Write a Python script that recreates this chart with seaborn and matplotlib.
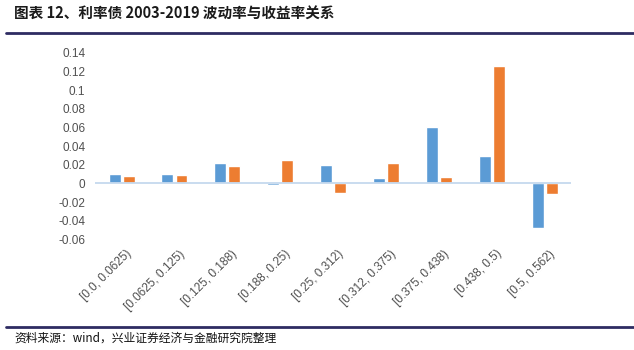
import numpy as np
import pandas as pd
import matplotlib
matplotlib.use("Agg")
import matplotlib.pyplot as plt
from matplotlib.ticker import FuncFormatter
from matplotlib.transforms import ScaledTranslation
import seaborn as sns

# === dati ===
bins = ["[0.0, 0.0625)", "[0.0625, 0.125)", "[0.125, 0.188)", "[0.188, 0.25)",
        "[0.25, 0.312)", "[0.312, 0.375)", "[0.375, 0.438)", "[0.438, 0.5)",
        "[0.5, 0.562)"]
vol = [0.0100, 0.0097, 0.0215, -0.0015, 0.0200, 0.0054, 0.0610, 0.0290, -0.0478]
ret = [0.0078, 0.0086, 0.0190, 0.0250, -0.0100, 0.0215, 0.0068, 0.1263, -0.0112]
series_names = ["波动率", "收益率"]
colors = ["#5B9BD5", "#ED7D31"]

df = pd.DataFrame({
    "bin": bins * 2,
    "serie": [series_names[0]] * len(bins) + [series_names[1]] * len(bins),
    "valore": vol + ret,
})

sns.set_style("white")
plt.rcParams["font.family"] = ["Noto Sans CJK SC", "DejaVu Sans"]

fig = plt.figure(figsize=(6.34, 3.5), dpi=100)
ax = fig.add_axes([0.150, 0.316, 0.751, 0.533])

sns.barplot(data=df, x="bin", y="valore", hue="serie", palette=colors,
            width=0.53, gap=0.15, legend=False, ax=ax, saturation=1)

ax.axhline(0, color="#C5D9EE", lw=1.3, zorder=3)
ax.set_ylim(-0.06, 0.14)
ax.set_yticks(np.arange(-0.06, 0.1401, 0.02))
ax.yaxis.set_major_formatter(FuncFormatter(lambda v, p: "%g" % round(v, 2)))
ax.set_xlim(-0.5, len(bins) - 0.5)
ax.set_xlabel("")
ax.set_ylabel("")
for s in ax.spines.values():
    s.set_visible(False)
ax.tick_params(axis="y", length=0, pad=7, labelsize=8.5, labelcolor="#505050")
ax.tick_params(axis="x", length=0, pad=6, labelsize=8.5, labelcolor="#505050")
shift = ScaledTranslation(3 / 72, 0, fig.dpi_scale_trans)
for lab in ax.get_xticklabels():
    lab.set_family(["Liberation Sans", "DejaVu Sans"])
    lab.set_rotation(45)
    lab.set_ha("right")
    lab.set_rotation_mode("anchor")
    lab.set_transform(lab.get_transform() + shift)
for lab in ax.get_yticklabels():
    lab.set_family(["Liberation Sans", "DejaVu Sans"])

# intestazione e piè di pagina
fig.text(0.022, 0.962, "图表 12、利率债 2003-2019 波动率与收益率关系",
         fontsize=10.5, fontweight="bold", color="#1a1a1a", va="center", ha="left")
fig.add_artist(plt.Line2D([0.01, 1.0], [0.905, 0.905], color="#2E2C62", lw=2))
fig.add_artist(plt.Line2D([0.01, 1.0], [0.067, 0.067], color="#2E2C62", lw=2))
fig.text(0.022, 0.034, "资料来源：wind，兴业证券经济与金融研究院整理",
         fontsize=8.5, color="#111111", va="center", ha="left")

fig.savefig("out.png", dpi=100)
